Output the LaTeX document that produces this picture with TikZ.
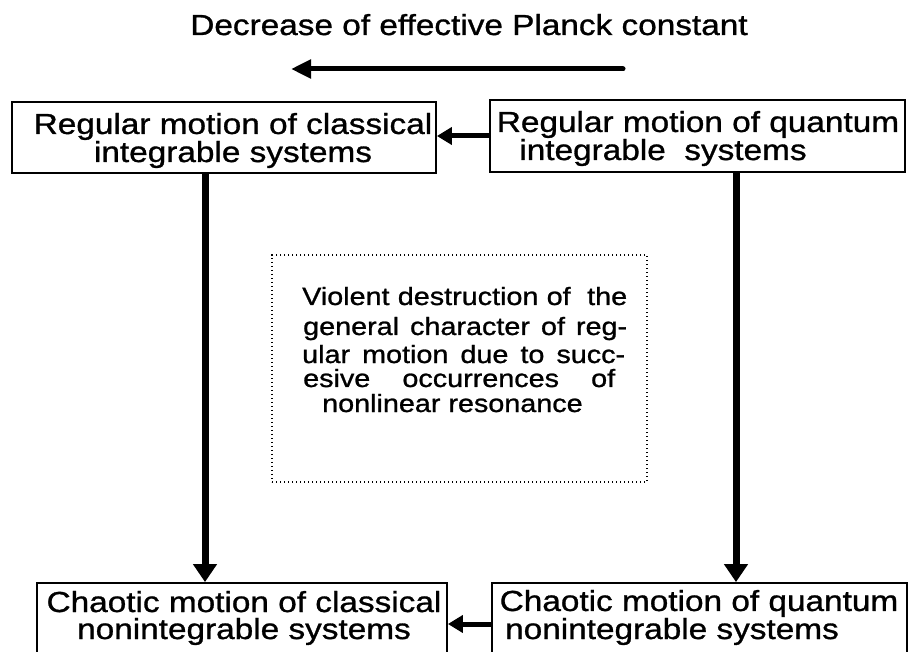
\documentclass[tikz,border=0pt]{standalone}
\usepackage{fontspec}
\usetikzlibrary{arrows.meta}
\newfontfamily\hfont{Liberation Sans}[FakeStretch=1.15,FakeBold=1]
\begin{document}
\begin{tikzpicture}[x=1pt,y=-1pt,
  bigtxt/.style={font=\hfont\fontsize{29}{29}\selectfont, inner sep=0pt, anchor=base},
  twoline/.style={font=\hfont\fontsize{29}{27}\selectfont, inner sep=0pt, anchor=base, align=center},
  smalltxt/.style={font=\hfont\fontsize{25}{25}\selectfont, inner sep=0pt, anchor=base west},
  solidbox/.style={draw, line width=1.8pt, inner sep=0pt},
  dotbox/.style={draw, line width=1.4pt, dash pattern=on 1.4pt off 2.6pt, inner sep=0pt},
  harrow/.style={line width=5pt, -{Triangle[length=20pt,width=18pt]}},
  varrow/.style={line width=7pt, -{Triangle[length=18pt,width=23pt]}},
  carrow/.style={line width=5pt, -{Triangle[length=15pt,width=17pt]}}]
\clip (0,0) rectangle (908,652);
\fill[white] (0,0) rectangle (908,652);

% title
\node[bigtxt] (title) at (469,35) {Decrease of effective Planck constant};
\coordinate (ta) at (623,69);
\coordinate (tb) at (291,69);
\draw[harrow, line cap=round] (ta) -- (tb);

% boxes
\node[solidbox, minimum width=424pt, minimum height=71pt] (tl) at (224,137.5) {};
\node[solidbox, minimum width=415pt, minimum height=72pt] (tr) at (697.5,136) {};
\node[solidbox, minimum width=410pt, minimum height=100pt] (bl) at (242,633) {};
\node[solidbox, minimum width=415pt, minimum height=100pt] (br) at (699.5,633) {};
\node[dotbox, minimum width=375pt, minimum height=227pt] (mid) at (459.5,368.5) {};

% box texts (anchored at the baseline of the last line)
\node[twoline] (tlt) at (233,162) {Regular motion of classical\\integrable systems};
\node[twoline] (trt) at (698,160) {Regular motion of quantum\\\hspace*{-70pt}integrable\ \ systems};
\node[twoline] (blt) at (244,639) {Chaotic motion of classical\\nonintegrable systems};
\node[twoline] (brt) at (699,639) {Chaotic motion of quantum\\\hspace*{-54pt}nonintegrable systems};

% middle text
\node[smalltxt] (m1) at (302,305) {\makebox[325pt][s]{Violent destruction of\ \ the}};
\node[smalltxt] (m2) at (303,335) {\makebox[324pt][s]{general character of reg-}};
\node[smalltxt] (m3) at (302,363) {\makebox[323pt][s]{ular motion due to succ-}};
\node[smalltxt] (m4) at (303,387) {\makebox[312pt][s]{esive occurrences of}};
\node[smalltxt] (m5) at (322,412) {nonlinear resonance};

% connectors
\coordinate (vl) at (205,0);
\coordinate (vr) at (736,0);
\draw[carrow] (tr.west) -- (tr.west -| tl.east);
\draw[carrow] (br.west |- 0,624) -- (bl.east |- 0,624);
\draw[varrow] (tl.south -| vl) -- (bl.north -| vl);
\draw[varrow] (tr.south -| vr) -- (br.north -| vr);
\end{tikzpicture}
\end{document}
